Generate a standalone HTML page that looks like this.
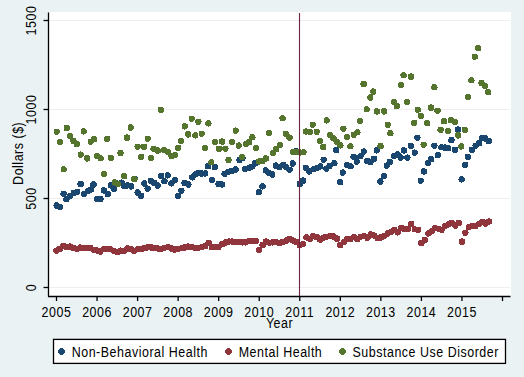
<!DOCTYPE html><html><head><meta charset="utf-8"><style>html,body{margin:0;padding:0;background:#eaf2f3;}svg{display:block;}text{font-family:"Liberation Sans",sans-serif;fill:#000;}</style></head><body><svg width="524" height="377" viewBox="0 0 524 377"><rect x="0" y="0" width="524" height="377" fill="#eaf2f3"/><rect x="49" y="12" width="462" height="284" fill="#ffffff"/><line x1="49" y1="20.5" x2="510" y2="20.5" stroke="#eeeeee" stroke-width="1"/><line x1="49" y1="109.5" x2="510" y2="109.5" stroke="#eeeeee" stroke-width="1"/><line x1="49" y1="198.5" x2="510" y2="198.5" stroke="#eeeeee" stroke-width="1"/><line x1="49" y1="287.5" x2="510" y2="287.5" stroke="#eeeeee" stroke-width="1"/><line x1="48.5" y1="12.5" x2="48.5" y2="296.5" stroke="#000" stroke-width="1.3"/><line x1="48" y1="296.5" x2="510.5" y2="296.5" stroke="#000" stroke-width="1.3"/><line x1="43.5" y1="20.5" x2="48.5" y2="20.5" stroke="#000" stroke-width="1.3"/><line x1="43.5" y1="109.5" x2="48.5" y2="109.5" stroke="#000" stroke-width="1.3"/><line x1="43.5" y1="198.5" x2="48.5" y2="198.5" stroke="#000" stroke-width="1.3"/><line x1="43.5" y1="287.5" x2="48.5" y2="287.5" stroke="#000" stroke-width="1.3"/><line x1="56.50" y1="296.5" x2="56.50" y2="301" stroke="#000" stroke-width="1.3"/><line x1="97.05" y1="296.5" x2="97.05" y2="301" stroke="#000" stroke-width="1.3"/><line x1="137.59" y1="296.5" x2="137.59" y2="301" stroke="#000" stroke-width="1.3"/><line x1="178.13" y1="296.5" x2="178.13" y2="301" stroke="#000" stroke-width="1.3"/><line x1="218.68" y1="296.5" x2="218.68" y2="301" stroke="#000" stroke-width="1.3"/><line x1="259.23" y1="296.5" x2="259.23" y2="301" stroke="#000" stroke-width="1.3"/><line x1="299.77" y1="296.5" x2="299.77" y2="301" stroke="#000" stroke-width="1.3"/><line x1="340.31" y1="296.5" x2="340.31" y2="301" stroke="#000" stroke-width="1.3"/><line x1="380.86" y1="296.5" x2="380.86" y2="301" stroke="#000" stroke-width="1.3"/><line x1="421.41" y1="296.5" x2="421.41" y2="301" stroke="#000" stroke-width="1.3"/><line x1="461.95" y1="296.5" x2="461.95" y2="301" stroke="#000" stroke-width="1.3"/><line x1="502.50" y1="296.5" x2="502.50" y2="301" stroke="#000" stroke-width="1.3"/><text transform="translate(36.30,287.50) rotate(-90) scale(0.86,1)" text-anchor="middle" font-size="14.5" letter-spacing="0.6">0</text><text transform="translate(36.30,198.50) rotate(-90) scale(0.86,1)" text-anchor="middle" font-size="14.5" letter-spacing="0.6">500</text><text transform="translate(36.30,109.50) rotate(-90) scale(0.86,1)" text-anchor="middle" font-size="14.5" letter-spacing="0.6">1000</text><text transform="translate(36.30,20.50) rotate(-90) scale(0.86,1)" text-anchor="middle" font-size="14.5" letter-spacing="0.6">1500</text><text transform="translate(23.30,153.30) rotate(-90) scale(0.86,1)" text-anchor="middle" font-size="14.5" letter-spacing="0.6">Dollars ($)</text><text transform="translate(56.50,317.00) scale(0.86,1)" text-anchor="middle" font-size="14.5" letter-spacing="0.6">2005</text><text transform="translate(97.05,317.00) scale(0.86,1)" text-anchor="middle" font-size="14.5" letter-spacing="0.6">2006</text><text transform="translate(137.59,317.00) scale(0.86,1)" text-anchor="middle" font-size="14.5" letter-spacing="0.6">2007</text><text transform="translate(178.13,317.00) scale(0.86,1)" text-anchor="middle" font-size="14.5" letter-spacing="0.6">2008</text><text transform="translate(218.68,317.00) scale(0.86,1)" text-anchor="middle" font-size="14.5" letter-spacing="0.6">2009</text><text transform="translate(259.23,317.00) scale(0.86,1)" text-anchor="middle" font-size="14.5" letter-spacing="0.6">2010</text><text transform="translate(299.77,317.00) scale(0.86,1)" text-anchor="middle" font-size="14.5" letter-spacing="0.6">2011</text><text transform="translate(340.31,317.00) scale(0.86,1)" text-anchor="middle" font-size="14.5" letter-spacing="0.6">2012</text><text transform="translate(380.86,317.00) scale(0.86,1)" text-anchor="middle" font-size="14.5" letter-spacing="0.6">2013</text><text transform="translate(421.41,317.00) scale(0.86,1)" text-anchor="middle" font-size="14.5" letter-spacing="0.6">2014</text><text transform="translate(461.95,317.00) scale(0.86,1)" text-anchor="middle" font-size="14.5" letter-spacing="0.6">2015</text><text transform="translate(279.50,328.00) scale(0.86,1)" text-anchor="middle" font-size="14.5" letter-spacing="0.6">Year</text><g fill="#1a476f" shape-rendering="crispEdges"><circle cx="56.6" cy="205.5" r="3.2"/><circle cx="60.1" cy="207.1" r="3.2"/><circle cx="63.6" cy="193.8" r="3.2"/><circle cx="66.5" cy="199.1" r="3.2"/><circle cx="70.2" cy="195.9" r="3.2"/><circle cx="73.9" cy="192.7" r="3.2"/><circle cx="77.1" cy="191.7" r="3.2"/><circle cx="80.6" cy="184.0" r="3.2"/><circle cx="84.0" cy="193.8" r="3.2"/><circle cx="87.7" cy="191.1" r="3.2"/><circle cx="90.9" cy="189.6" r="3.2"/><circle cx="93.5" cy="184.5" r="3.2"/><circle cx="96.8" cy="199.0" r="3.2"/><circle cx="100.5" cy="199.0" r="3.2"/><circle cx="103.9" cy="190.5" r="3.2"/><circle cx="107.7" cy="194.2" r="3.2"/><circle cx="110.7" cy="185.4" r="3.2"/><circle cx="113.9" cy="188.7" r="3.2"/><circle cx="116.5" cy="183.5" r="3.2"/><circle cx="121.5" cy="182.6" r="3.2"/><circle cx="124.2" cy="186.1" r="3.2"/><circle cx="127.8" cy="185.4" r="3.2"/><circle cx="131.1" cy="186.4" r="3.2"/><circle cx="134.6" cy="178.9" r="3.2"/><circle cx="137.6" cy="192.5" r="3.2"/><circle cx="141.1" cy="195.7" r="3.2"/><circle cx="144.2" cy="183.5" r="3.2"/><circle cx="147.6" cy="188.6" r="3.2"/><circle cx="150.7" cy="180.7" r="3.2"/><circle cx="154.2" cy="182.8" r="3.2"/><circle cx="157.8" cy="185.5" r="3.2"/><circle cx="161.3" cy="175.9" r="3.2"/><circle cx="164.5" cy="181.2" r="3.2"/><circle cx="167.7" cy="175.4" r="3.2"/><circle cx="171.4" cy="183.4" r="3.2"/><circle cx="175.0" cy="179.8" r="3.2"/><circle cx="178.0" cy="195.8" r="3.2"/><circle cx="181.4" cy="190.8" r="3.2"/><circle cx="184.5" cy="183.0" r="3.2"/><circle cx="188.4" cy="184.5" r="3.2"/><circle cx="192.2" cy="177.4" r="3.2"/><circle cx="195.3" cy="174.4" r="3.2"/><circle cx="198.5" cy="172.8" r="3.2"/><circle cx="201.6" cy="173.5" r="3.2"/><circle cx="205.2" cy="173.5" r="3.2"/><circle cx="208.0" cy="166.3" r="3.2"/><circle cx="212.0" cy="180.1" r="3.2"/><circle cx="214.9" cy="167.2" r="3.2"/><circle cx="218.5" cy="184.0" r="3.2"/><circle cx="222.0" cy="184.5" r="3.2"/><circle cx="224.6" cy="173.9" r="3.2"/><circle cx="228.3" cy="171.7" r="3.2"/><circle cx="232.0" cy="170.7" r="3.2"/><circle cx="235.5" cy="169.5" r="3.2"/><circle cx="239.5" cy="160.0" r="3.2"/><circle cx="242.4" cy="158.0" r="3.2"/><circle cx="245.1" cy="168.9" r="3.2"/><circle cx="248.5" cy="168.2" r="3.2"/><circle cx="251.8" cy="166.7" r="3.2"/><circle cx="255.0" cy="163.4" r="3.2"/><circle cx="258.8" cy="192.1" r="3.2"/><circle cx="262.5" cy="186.3" r="3.2"/><circle cx="265.7" cy="170.4" r="3.2"/><circle cx="268.8" cy="173.0" r="3.2"/><circle cx="272.3" cy="174.5" r="3.2"/><circle cx="275.8" cy="165.6" r="3.2"/><circle cx="279.5" cy="167.2" r="3.2"/><circle cx="283.2" cy="164.8" r="3.2"/><circle cx="286.4" cy="167.4" r="3.2"/><circle cx="289.6" cy="169.8" r="3.2"/><circle cx="292.8" cy="163.5" r="3.2"/><circle cx="296.0" cy="151.3" r="3.2"/><circle cx="299.7" cy="184.0" r="3.2"/><circle cx="303.0" cy="180.6" r="3.2"/><circle cx="305.7" cy="167.9" r="3.2"/><circle cx="309.2" cy="171.5" r="3.2"/><circle cx="313.6" cy="169.2" r="3.2"/><circle cx="316.9" cy="168.0" r="3.2"/><circle cx="320.3" cy="166.4" r="3.2"/><circle cx="323.6" cy="159.7" r="3.2"/><circle cx="326.4" cy="168.6" r="3.2"/><circle cx="329.7" cy="165.8" r="3.2"/><circle cx="334.4" cy="163.2" r="3.2"/><circle cx="336.2" cy="150.2" r="3.2"/><circle cx="340.1" cy="182.3" r="3.2"/><circle cx="342.8" cy="172.6" r="3.2"/><circle cx="347.0" cy="164.8" r="3.2"/><circle cx="350.6" cy="166.2" r="3.2"/><circle cx="353.6" cy="156.9" r="3.2"/><circle cx="356.8" cy="161.5" r="3.2"/><circle cx="360.5" cy="156.2" r="3.2"/><circle cx="363.8" cy="151.6" r="3.2"/><circle cx="367.2" cy="160.9" r="3.2"/><circle cx="370.5" cy="162.2" r="3.2"/><circle cx="374.0" cy="158.7" r="3.2"/><circle cx="376.8" cy="150.4" r="3.2"/><circle cx="380.4" cy="181.5" r="3.2"/><circle cx="383.9" cy="176.3" r="3.2"/><circle cx="386.7" cy="165.6" r="3.2"/><circle cx="389.9" cy="161.9" r="3.2"/><circle cx="393.9" cy="156.0" r="3.2"/><circle cx="397.6" cy="154.5" r="3.2"/><circle cx="400.8" cy="157.6" r="3.2"/><circle cx="403.9" cy="150.5" r="3.2"/><circle cx="407.4" cy="157.6" r="3.2"/><circle cx="410.9" cy="145.7" r="3.2"/><circle cx="414.7" cy="152.6" r="3.2"/><circle cx="417.4" cy="137.7" r="3.2"/><circle cx="420.7" cy="180.7" r="3.2"/><circle cx="423.9" cy="171.5" r="3.2"/><circle cx="428.0" cy="163.2" r="3.2"/><circle cx="431.2" cy="159.2" r="3.2"/><circle cx="434.4" cy="145.7" r="3.2"/><circle cx="437.9" cy="155.3" r="3.2"/><circle cx="441.4" cy="147.3" r="3.2"/><circle cx="445.0" cy="147.6" r="3.2"/><circle cx="448.2" cy="148.1" r="3.2"/><circle cx="451.5" cy="140.1" r="3.2"/><circle cx="455.0" cy="149.7" r="3.2"/><circle cx="458.0" cy="129.6" r="3.2"/><circle cx="461.6" cy="179.4" r="3.2"/><circle cx="465.1" cy="164.8" r="3.2"/><circle cx="467.9" cy="156.8" r="3.2"/><circle cx="471.9" cy="149.7" r="3.2"/><circle cx="475.6" cy="145.7" r="3.2"/><circle cx="479.1" cy="143.3" r="3.2"/><circle cx="481.9" cy="138.1" r="3.2"/><circle cx="485.4" cy="138.5" r="3.2"/><circle cx="488.9" cy="141.2" r="3.2"/></g><g fill="#90353b" shape-rendering="crispEdges"><circle cx="56.5" cy="250.6" r="3.2"/><circle cx="59.9" cy="248.8" r="3.2"/><circle cx="63.3" cy="245.8" r="3.2"/><circle cx="66.6" cy="247.0" r="3.2"/><circle cx="70.0" cy="246.5" r="3.2"/><circle cx="73.4" cy="248.0" r="3.2"/><circle cx="76.8" cy="248.8" r="3.2"/><circle cx="80.2" cy="247.6" r="3.2"/><circle cx="83.5" cy="247.9" r="3.2"/><circle cx="86.9" cy="247.9" r="3.2"/><circle cx="90.3" cy="247.9" r="3.2"/><circle cx="93.7" cy="249.7" r="3.2"/><circle cx="97.0" cy="250.5" r="3.2"/><circle cx="100.4" cy="251.5" r="3.2"/><circle cx="103.8" cy="249.0" r="3.2"/><circle cx="107.2" cy="249.2" r="3.2"/><circle cx="110.6" cy="249.2" r="3.2"/><circle cx="113.9" cy="250.8" r="3.2"/><circle cx="117.3" cy="252.0" r="3.2"/><circle cx="120.7" cy="250.6" r="3.2"/><circle cx="124.1" cy="251.0" r="3.2"/><circle cx="127.5" cy="248.5" r="3.2"/><circle cx="130.8" cy="248.8" r="3.2"/><circle cx="134.2" cy="250.8" r="3.2"/><circle cx="137.6" cy="249.3" r="3.2"/><circle cx="141.0" cy="249.3" r="3.2"/><circle cx="144.4" cy="248.2" r="3.2"/><circle cx="147.7" cy="247.4" r="3.2"/><circle cx="151.1" cy="247.4" r="3.2"/><circle cx="154.5" cy="248.2" r="3.2"/><circle cx="157.9" cy="248.5" r="3.2"/><circle cx="161.2" cy="248.9" r="3.2"/><circle cx="164.6" cy="247.7" r="3.2"/><circle cx="168.0" cy="247.1" r="3.2"/><circle cx="171.4" cy="248.5" r="3.2"/><circle cx="174.8" cy="249.6" r="3.2"/><circle cx="178.1" cy="248.9" r="3.2"/><circle cx="181.5" cy="248.2" r="3.2"/><circle cx="184.9" cy="247.4" r="3.2"/><circle cx="188.3" cy="246.6" r="3.2"/><circle cx="191.7" cy="246.9" r="3.2"/><circle cx="195.0" cy="247.7" r="3.2"/><circle cx="198.4" cy="247.7" r="3.2"/><circle cx="201.8" cy="247.3" r="3.2"/><circle cx="205.2" cy="246.3" r="3.2"/><circle cx="208.6" cy="242.7" r="3.2"/><circle cx="211.9" cy="247.2" r="3.2"/><circle cx="215.3" cy="247.2" r="3.2"/><circle cx="218.7" cy="246.8" r="3.2"/><circle cx="222.1" cy="244.3" r="3.2"/><circle cx="225.4" cy="242.5" r="3.2"/><circle cx="228.8" cy="241.6" r="3.2"/><circle cx="232.2" cy="241.6" r="3.2"/><circle cx="235.6" cy="241.9" r="3.2"/><circle cx="239.0" cy="242.2" r="3.2"/><circle cx="242.3" cy="242.4" r="3.2"/><circle cx="245.7" cy="242.4" r="3.2"/><circle cx="249.1" cy="241.3" r="3.2"/><circle cx="252.5" cy="240.8" r="3.2"/><circle cx="255.9" cy="241.3" r="3.2"/><circle cx="259.2" cy="249.8" r="3.2"/><circle cx="262.6" cy="245.0" r="3.2"/><circle cx="266.0" cy="241.6" r="3.2"/><circle cx="269.4" cy="242.7" r="3.2"/><circle cx="272.8" cy="242.4" r="3.2"/><circle cx="276.1" cy="241.9" r="3.2"/><circle cx="279.5" cy="243.1" r="3.2"/><circle cx="282.9" cy="241.9" r="3.2"/><circle cx="286.3" cy="240.5" r="3.2"/><circle cx="289.7" cy="238.9" r="3.2"/><circle cx="293.0" cy="240.5" r="3.2"/><circle cx="296.4" cy="241.9" r="3.2"/><circle cx="299.8" cy="245.4" r="3.2"/><circle cx="303.2" cy="244.0" r="3.2"/><circle cx="306.5" cy="237.3" r="3.2"/><circle cx="309.9" cy="239.1" r="3.2"/><circle cx="313.3" cy="236.2" r="3.2"/><circle cx="316.7" cy="237.1" r="3.2"/><circle cx="320.1" cy="239.6" r="3.2"/><circle cx="323.4" cy="237.6" r="3.2"/><circle cx="326.8" cy="236.7" r="3.2"/><circle cx="330.2" cy="235.8" r="3.2"/><circle cx="333.6" cy="236.5" r="3.2"/><circle cx="337.0" cy="238.6" r="3.2"/><circle cx="340.3" cy="245.2" r="3.2"/><circle cx="343.7" cy="242.3" r="3.2"/><circle cx="347.1" cy="239.2" r="3.2"/><circle cx="350.5" cy="239.2" r="3.2"/><circle cx="353.9" cy="237.0" r="3.2"/><circle cx="357.2" cy="239.1" r="3.2"/><circle cx="360.6" cy="236.8" r="3.2"/><circle cx="364.0" cy="236.3" r="3.2"/><circle cx="367.4" cy="237.9" r="3.2"/><circle cx="370.7" cy="234.5" r="3.2"/><circle cx="374.1" cy="235.6" r="3.2"/><circle cx="377.5" cy="237.9" r="3.2"/><circle cx="380.9" cy="237.5" r="3.2"/><circle cx="384.3" cy="235.8" r="3.2"/><circle cx="387.6" cy="233.5" r="3.2"/><circle cx="391.0" cy="232.0" r="3.2"/><circle cx="394.4" cy="229.9" r="3.2"/><circle cx="397.8" cy="232.4" r="3.2"/><circle cx="401.2" cy="227.9" r="3.2"/><circle cx="404.5" cy="229.2" r="3.2"/><circle cx="407.9" cy="228.8" r="3.2"/><circle cx="411.3" cy="224.0" r="3.2"/><circle cx="414.7" cy="229.3" r="3.2"/><circle cx="418.1" cy="229.8" r="3.2"/><circle cx="421.4" cy="243.0" r="3.2"/><circle cx="424.8" cy="239.8" r="3.2"/><circle cx="428.2" cy="233.5" r="3.2"/><circle cx="431.6" cy="231.4" r="3.2"/><circle cx="434.9" cy="228.2" r="3.2"/><circle cx="438.3" cy="228.7" r="3.2"/><circle cx="441.7" cy="229.8" r="3.2"/><circle cx="445.1" cy="226.0" r="3.2"/><circle cx="448.5" cy="224.3" r="3.2"/><circle cx="451.8" cy="222.7" r="3.2"/><circle cx="455.2" cy="225.6" r="3.2"/><circle cx="458.6" cy="223.0" r="3.2"/><circle cx="462.0" cy="241.6" r="3.2"/><circle cx="465.4" cy="232.8" r="3.2"/><circle cx="468.7" cy="227.3" r="3.2"/><circle cx="472.1" cy="225.7" r="3.2"/><circle cx="475.5" cy="226.2" r="3.2"/><circle cx="478.9" cy="224.1" r="3.2"/><circle cx="482.3" cy="222.0" r="3.2"/><circle cx="485.6" cy="223.6" r="3.2"/><circle cx="489.0" cy="221.5" r="3.2"/></g><g fill="#55752f" shape-rendering="crispEdges"><circle cx="56.7" cy="131.7" r="3.2"/><circle cx="60.0" cy="142.0" r="3.2"/><circle cx="63.7" cy="169.3" r="3.2"/><circle cx="66.7" cy="128.0" r="3.2"/><circle cx="70.0" cy="135.9" r="3.2"/><circle cx="73.4" cy="140.9" r="3.2"/><circle cx="76.7" cy="144.2" r="3.2"/><circle cx="80.7" cy="154.6" r="3.2"/><circle cx="83.7" cy="131.4" r="3.2"/><circle cx="87.1" cy="158.4" r="3.2"/><circle cx="90.7" cy="141.7" r="3.2"/><circle cx="94.1" cy="139.2" r="3.2"/><circle cx="97.1" cy="155.9" r="3.2"/><circle cx="100.7" cy="158.3" r="3.2"/><circle cx="104.0" cy="173.9" r="3.2"/><circle cx="107.3" cy="138.8" r="3.2"/><circle cx="110.8" cy="157.9" r="3.2"/><circle cx="114.7" cy="182.4" r="3.2"/><circle cx="117.8" cy="183.9" r="3.2"/><circle cx="120.5" cy="153.0" r="3.2"/><circle cx="124.3" cy="176.1" r="3.2"/><circle cx="127.0" cy="137.6" r="3.2"/><circle cx="130.8" cy="127.5" r="3.2"/><circle cx="134.4" cy="179.1" r="3.2"/><circle cx="137.6" cy="146.7" r="3.2"/><circle cx="141.1" cy="156.7" r="3.2"/><circle cx="144.0" cy="146.7" r="3.2"/><circle cx="147.7" cy="138.7" r="3.2"/><circle cx="150.8" cy="158.0" r="3.2"/><circle cx="153.6" cy="148.9" r="3.2"/><circle cx="157.9" cy="150.6" r="3.2"/><circle cx="160.9" cy="109.8" r="3.2"/><circle cx="164.4" cy="150.1" r="3.2"/><circle cx="168.0" cy="152.0" r="3.2"/><circle cx="171.5" cy="156.0" r="3.2"/><circle cx="175.0" cy="155.0" r="3.2"/><circle cx="178.3" cy="147.8" r="3.2"/><circle cx="181.0" cy="140.8" r="3.2"/><circle cx="184.8" cy="126.4" r="3.2"/><circle cx="188.1" cy="134.4" r="3.2"/><circle cx="191.7" cy="118.7" r="3.2"/><circle cx="195.3" cy="135.4" r="3.2"/><circle cx="198.4" cy="121.8" r="3.2"/><circle cx="201.7" cy="133.7" r="3.2"/><circle cx="204.8" cy="148.0" r="3.2"/><circle cx="208.4" cy="123.4" r="3.2"/><circle cx="211.3" cy="162.3" r="3.2"/><circle cx="215.0" cy="142.2" r="3.2"/><circle cx="219.0" cy="148.7" r="3.2"/><circle cx="222.1" cy="141.6" r="3.2"/><circle cx="225.4" cy="148.7" r="3.2"/><circle cx="228.5" cy="160.0" r="3.2"/><circle cx="232.1" cy="142.0" r="3.2"/><circle cx="235.7" cy="130.6" r="3.2"/><circle cx="238.8" cy="145.6" r="3.2"/><circle cx="242.0" cy="156.8" r="3.2"/><circle cx="245.9" cy="144.0" r="3.2"/><circle cx="249.3" cy="142.0" r="3.2"/><circle cx="252.4" cy="137.2" r="3.2"/><circle cx="256.0" cy="148.0" r="3.2"/><circle cx="259.0" cy="161.5" r="3.2"/><circle cx="262.4" cy="161.0" r="3.2"/><circle cx="265.9" cy="158.5" r="3.2"/><circle cx="269.0" cy="133.1" r="3.2"/><circle cx="273.0" cy="153.0" r="3.2"/><circle cx="276.3" cy="149.0" r="3.2"/><circle cx="279.8" cy="145.0" r="3.2"/><circle cx="282.6" cy="118.3" r="3.2"/><circle cx="285.8" cy="133.8" r="3.2"/><circle cx="289.5" cy="137.6" r="3.2"/><circle cx="293.2" cy="151.7" r="3.2"/><circle cx="296.8" cy="152.2" r="3.2"/><circle cx="300.0" cy="152.5" r="3.2"/><circle cx="303.5" cy="152.2" r="3.2"/><circle cx="306.0" cy="131.5" r="3.2"/><circle cx="309.8" cy="131.8" r="3.2"/><circle cx="312.7" cy="124.7" r="3.2"/><circle cx="316.7" cy="131.8" r="3.2"/><circle cx="319.9" cy="141.1" r="3.2"/><circle cx="323.3" cy="147.0" r="3.2"/><circle cx="326.7" cy="120.4" r="3.2"/><circle cx="330.0" cy="134.8" r="3.2"/><circle cx="333.5" cy="138.3" r="3.2"/><circle cx="337.0" cy="141.9" r="3.2"/><circle cx="340.4" cy="145.4" r="3.2"/><circle cx="343.4" cy="128.7" r="3.2"/><circle cx="347.1" cy="137.1" r="3.2"/><circle cx="350.4" cy="146.3" r="3.2"/><circle cx="353.7" cy="134.8" r="3.2"/><circle cx="357.4" cy="132.3" r="3.2"/><circle cx="360.0" cy="121.2" r="3.2"/><circle cx="363.6" cy="84.0" r="3.2"/><circle cx="366.7" cy="109.3" r="3.2"/><circle cx="370.3" cy="97.5" r="3.2"/><circle cx="373.2" cy="91.6" r="3.2"/><circle cx="376.9" cy="111.5" r="3.2"/><circle cx="380.6" cy="146.1" r="3.2"/><circle cx="384.1" cy="111.4" r="3.2"/><circle cx="387.7" cy="124.8" r="3.2"/><circle cx="390.4" cy="133.2" r="3.2"/><circle cx="394.0" cy="102.0" r="3.2"/><circle cx="396.8" cy="106.3" r="3.2"/><circle cx="401.0" cy="85.0" r="3.2"/><circle cx="403.6" cy="75.3" r="3.2"/><circle cx="407.2" cy="102.0" r="3.2"/><circle cx="411.0" cy="76.6" r="3.2"/><circle cx="414.3" cy="122.8" r="3.2"/><circle cx="417.8" cy="109.7" r="3.2"/><circle cx="420.8" cy="115.8" r="3.2"/><circle cx="423.6" cy="144.7" r="3.2"/><circle cx="427.3" cy="123.2" r="3.2"/><circle cx="431.0" cy="107.6" r="3.2"/><circle cx="434.4" cy="87.2" r="3.2"/><circle cx="437.5" cy="110.8" r="3.2"/><circle cx="440.6" cy="129.9" r="3.2"/><circle cx="444.0" cy="121.3" r="3.2"/><circle cx="447.9" cy="131.1" r="3.2"/><circle cx="451.0" cy="120.3" r="3.2"/><circle cx="454.9" cy="121.8" r="3.2"/><circle cx="458.1" cy="135.4" r="3.2"/><circle cx="461.2" cy="146.5" r="3.2"/><circle cx="464.9" cy="129.8" r="3.2"/><circle cx="468.0" cy="97.2" r="3.2"/><circle cx="471.4" cy="80.3" r="3.2"/><circle cx="474.8" cy="56.7" r="3.2"/><circle cx="478.2" cy="48.3" r="3.2"/><circle cx="481.5" cy="83.0" r="3.2"/><circle cx="484.9" cy="86.0" r="3.2"/><circle cx="488.3" cy="92.2" r="3.2"/></g><line x1="299.5" y1="13" x2="299.5" y2="296" stroke="#6e2345" stroke-width="1.1"/><rect x="53.5" y="339.4" width="452" height="24" fill="#fff" stroke="#000" stroke-width="1.3"/><circle cx="61.5" cy="351.4" r="3.3" fill="#1a476f" shape-rendering="crispEdges"/><text transform="translate(71.70,357.00) scale(0.86,1)" text-anchor="start" font-size="14.5" letter-spacing="0.6">Non-Behavioral Health</text><circle cx="228.4" cy="351.4" r="3.3" fill="#90353b" shape-rendering="crispEdges"/><text transform="translate(238.70,357.00) scale(0.86,1)" text-anchor="start" font-size="14.5" letter-spacing="0.6">Mental Health</text><circle cx="342.4" cy="351.4" r="3.3" fill="#55752f" shape-rendering="crispEdges"/><text transform="translate(352.50,357.00) scale(0.86,1)" text-anchor="start" font-size="14.5" letter-spacing="0.6">Substance Use Disorder</text></svg></body></html>
